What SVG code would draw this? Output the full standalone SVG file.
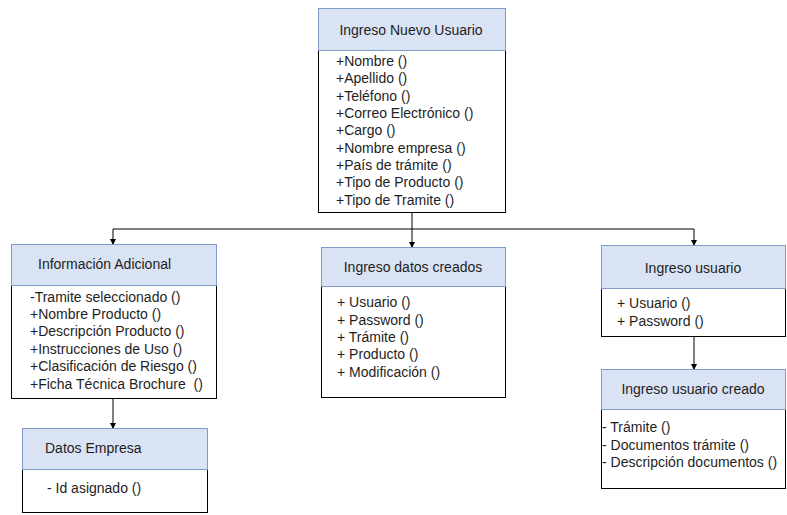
<svg xmlns="http://www.w3.org/2000/svg" width="787" height="515" viewBox="0 0 787 515">
<style>
.hd{fill:#dae3f3;stroke:#7f9cc8;stroke-width:1}
.bd{fill:#ffffff;stroke:#000;stroke-width:1}
text{font-family:"Liberation Sans",Arial,sans-serif;font-size:14px;fill:#1e1e1e}
.c{stroke:#000;stroke-width:1;fill:none}
</style>
<defs>
<marker id="ah" markerWidth="6" markerHeight="6" refX="5" refY="3" orient="auto" markerUnits="userSpaceOnUse">
<path d="M0,0 L6,3 L0,6 Z" fill="#000"/>
</marker>
</defs>
<rect width="787" height="515" fill="#fff"/>
<g id="connectors">
<path class="c" d="M412,213 V229"/>
<path class="c" d="M113,229 H694"/>
<path class="c" d="M113,229 V244" marker-end="url(#ah)"/>
<path class="c" d="M412,229 V247" marker-end="url(#ah)"/>
<path class="c" d="M694,229 V245" marker-end="url(#ah)"/>
<path class="c" d="M113,398 V428" marker-end="url(#ah)"/>
<path class="c" d="M694,337 V369" marker-end="url(#ah)"/>
</g>
<g id="ingreso-nuevo-usuario">
<rect class="bd" x="318.5" y="50.5" width="187" height="162"/>
<rect class="hd" x="318.5" y="8.5" width="187" height="42"/>
<text x="411" y="35" text-anchor="middle">Ingreso Nuevo Usuario</text>
<text x="336" y="66">+Nombre ()</text>
<text x="336" y="83">+Apellido ()</text>
<text x="336" y="101">+Teléfono ()</text>
<text x="336" y="118">+Correo Electrónico ()</text>
<text x="336" y="135">+Cargo ()</text>
<text x="336" y="153">+Nombre empresa ()</text>
<text x="336" y="170">+País de trámite ()</text>
<text x="336" y="187">+Tipo de Producto ()</text>
<text x="336" y="205">+Tipo de Tramite ()</text>
</g>
<g id="informacion-adicional">
<rect class="bd" x="11.5" y="285.5" width="205" height="113"/>
<rect class="hd" x="11.5" y="244.5" width="205" height="41"/>
<text x="38" y="269">Información Adicional</text>
<text x="30" y="302">-Tramite seleccionado ()</text>
<text x="30" y="319">+Nombre Producto ()</text>
<text x="30" y="336">+Descripción Producto ()</text>
<text x="30" y="354">+Instrucciones de Uso ()</text>
<text x="30" y="371">+Clasificación de Riesgo ()</text>
<text x="30" y="389" xml:space="preserve">+Ficha Técnica Brochure  ()</text>
</g>
<g id="ingreso-datos-creados">
<rect class="bd" x="321.5" y="286.5" width="184" height="111"/>
<rect class="hd" x="321.5" y="247.5" width="184" height="39"/>
<text x="413" y="272" text-anchor="middle">Ingreso datos creados</text>
<text x="337" y="307">+ Usuario ()</text>
<text x="337" y="325">+ Password ()</text>
<text x="337" y="342">+ Trámite ()</text>
<text x="337" y="359">+ Producto ()</text>
<text x="337" y="377">+ Modificación ()</text>
</g>
<g id="ingreso-usuario">
<rect class="bd" x="601.5" y="288.5" width="184" height="48"/>
<rect class="hd" x="601.5" y="245.5" width="184" height="43"/>
<text x="693" y="273" text-anchor="middle">Ingreso usuario</text>
<text x="617" y="308">+ Usuario ()</text>
<text x="617" y="326">+ Password ()</text>
</g>
<g id="ingreso-usuario-creado">
<rect class="bd" x="601.5" y="409.5" width="184" height="79"/>
<rect class="hd" x="601.5" y="369.5" width="184" height="40"/>
<text x="693" y="394" text-anchor="middle">Ingreso usuario creado</text>
<text x="602" y="432">- Trámite ()</text>
<text x="602" y="450">- Documentos trámite ()</text>
<text x="602" y="467">- Descripción documentos ()</text>
</g>
<g id="datos-empresa">
<rect class="bd" x="22.5" y="469.5" width="185" height="43"/>
<rect class="hd" x="22.5" y="428.5" width="185" height="41"/>
<text x="45" y="453">Datos Empresa</text>
<text x="47" y="493">- Id asignado ()</text>
</g>
</svg>
